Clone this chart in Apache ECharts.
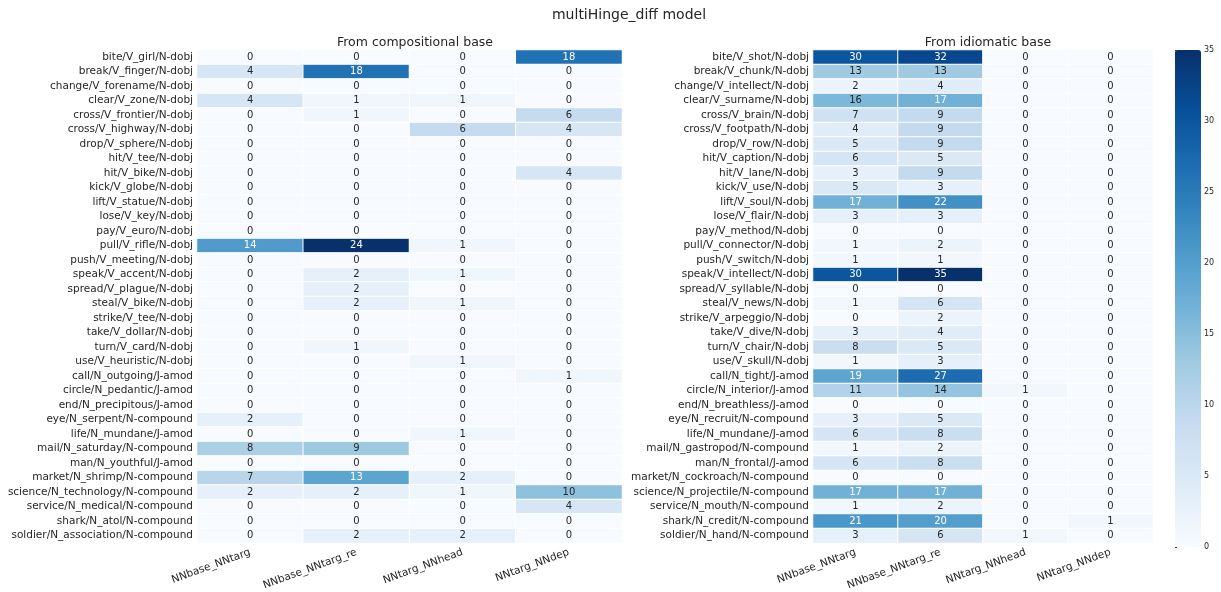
<!DOCTYPE html>
<html>
<head>
<meta charset="utf-8">
<script src="https://cdn.jsdelivr.net/npm/echarts@6/dist/echarts.min.js"></script>
<style>html,body{margin:0;padding:0;background:#fff}#c{width:1221px;height:592px}</style>
</head>
<body>
<div id="c"></div>
<script>
const columns = ['NNbase_NNtarg', 'NNbase_NNtarg_re', 'NNtarg_NNhead', 'NNtarg_NNdep'];

const compRows = ['bite/V_girl/N-dobj','break/V_finger/N-dobj','change/V_forename/N-dobj','clear/V_zone/N-dobj','cross/V_frontier/N-dobj','cross/V_highway/N-dobj','drop/V_sphere/N-dobj','hit/V_tee/N-dobj','hit/V_bike/N-dobj','kick/V_globe/N-dobj','lift/V_statue/N-dobj','lose/V_key/N-dobj','pay/V_euro/N-dobj','pull/V_rifle/N-dobj','push/V_meeting/N-dobj','speak/V_accent/N-dobj','spread/V_plague/N-dobj','steal/V_bike/N-dobj','strike/V_tee/N-dobj','take/V_dollar/N-dobj','turn/V_card/N-dobj','use/V_heuristic/N-dobj','call/N_outgoing/J-amod','circle/N_pedantic/J-amod','end/N_precipitous/J-amod','eye/N_serpent/N-compound','life/N_mundane/J-amod','mail/N_saturday/N-compound','man/N_youthful/J-amod','market/N_shrimp/N-compound','science/N_technology/N-compound','service/N_medical/N-compound','shark/N_atol/N-compound','soldier/N_association/N-compound'];

const compValues = [
  [0,0,0,18],[4,18,0,0],[0,0,0,0],[4,1,1,0],[0,1,0,6],[0,0,6,4],[0,0,0,0],[0,0,0,0],[0,0,0,4],[0,0,0,0],
  [0,0,0,0],[0,0,0,0],[0,0,0,0],[14,24,1,0],[0,0,0,0],[0,2,1,0],[0,2,0,0],[0,2,1,0],[0,0,0,0],[0,0,0,0],
  [0,1,0,0],[0,0,1,0],[0,0,0,1],[0,0,0,0],[0,0,0,0],[2,0,0,0],[0,0,1,0],[8,9,0,0],[0,0,0,0],[7,13,2,0],
  [2,2,1,10],[0,0,0,4],[0,0,0,0],[0,2,2,0]
];

const idiomRows = ['bite/V_shot/N-dobj','break/V_chunk/N-dobj','change/V_intellect/N-dobj','clear/V_surname/N-dobj','cross/V_brain/N-dobj','cross/V_footpath/N-dobj','drop/V_row/N-dobj','hit/V_caption/N-dobj','hit/V_lane/N-dobj','kick/V_use/N-dobj','lift/V_soul/N-dobj','lose/V_flair/N-dobj','pay/V_method/N-dobj','pull/V_connector/N-dobj','push/V_switch/N-dobj','speak/V_intellect/N-dobj','spread/V_syllable/N-dobj','steal/V_news/N-dobj','strike/V_arpeggio/N-dobj','take/V_dive/N-dobj','turn/V_chair/N-dobj','use/V_skull/N-dobj','call/N_tight/J-amod','circle/N_interior/J-amod','end/N_breathless/J-amod','eye/N_recruit/N-compound','life/N_mundane/J-amod','mail/N_gastropod/N-compound','man/N_frontal/J-amod','market/N_cockroach/N-compound','science/N_projectile/N-compound','service/N_mouth/N-compound','shark/N_credit/N-compound','soldier/N_hand/N-compound'];

const idiomValues = [
  [30,32,0,0],[13,13,0,0],[2,4,0,0],[16,17,0,0],[7,9,0,0],[4,9,0,0],[5,9,0,0],[6,5,0,0],[3,9,0,0],[5,3,0,0],
  [17,22,0,0],[3,3,0,0],[0,0,0,0],[1,2,0,0],[1,1,0,0],[30,35,0,0],[0,0,0,0],[1,6,0,0],[0,2,0,0],[3,4,0,0],
  [8,5,0,0],[1,3,0,0],[19,27,0,0],[11,14,1,0],[0,0,0,0],[3,5,0,0],[6,8,0,0],[1,2,0,0],[6,8,0,0],[0,0,0,0],
  [17,17,0,0],[1,2,0,0],[21,20,0,1],[3,6,1,0]
];

const colorbarTicks = [0, 5, 10, 15, 20, 25, 30, 35];

const BLUES = ['#f7fbff','#deebf7','#c6dbef','#9ecae1','#6baed6','#4292c6','#2171b5','#08519c','#08306b'];
const DARK = '#262626';

function buildData(values, vmax) {
  const out = [];
  values.forEach((row, r) => row.forEach((v, c) => {
    out.push({ value: [c, r, v], label: { color: (v / vmax) > 0.47 ? '#ffffff' : DARK } });
  }));
  return out;
}
const compMax = Math.max(...compValues.flat());
const idiomMax = Math.max(...idiomValues.flat());

const fontFamily = 'DejaVu Sans';
const yAxisCommon = {
  type: 'category', inverse: true,
  axisLine: { show: false }, axisTick: { show: false }, splitLine: { show: false },
  axisLabel: { fontSize: 10.5, color: DARK, margin: 4, fontFamily }
};
const xAxisCommon = {
  type: 'category', data: columns,
  axisLine: { show: false }, axisTick: { show: false }, splitLine: { show: false },
  axisLabel: { fontSize: 10.5, color: DARK, rotate: 20, margin: 9, interval: 0, fontFamily }
};

const chart = echarts.init(document.getElementById('c'));
chart.setOption({
  backgroundColor: '#ffffff',
  animation: false,
  textStyle: { fontFamily },
  title: [
    { text: 'multiHinge_diff model', left: 624, top: 3, textAlign: 'center',
      textStyle: { fontSize: 14, fontWeight: 'normal', color: DARK, fontFamily } },
    { text: 'From compositional base', left: 410, top: 31, textAlign: 'center',
      textStyle: { fontSize: 12.5, fontWeight: 'normal', color: DARK, fontFamily } },
    { text: 'From idiomatic base', left: 983, top: 31, textAlign: 'center',
      textStyle: { fontSize: 12.5, fontWeight: 'normal', color: DARK, fontFamily } }
  ],
  grid: [
    { left: 197, top: 50, width: 425, height: 497 },
    { left: 813, top: 50, width: 340, height: 497 },
    { left: 1175, top: 50, width: 26, height: 497 }
  ],
  xAxis: [
    Object.assign({ gridIndex: 0 }, xAxisCommon),
    Object.assign({ gridIndex: 1 }, xAxisCommon),
    { gridIndex: 2, type: 'value', show: false, min: 0, max: 1 }
  ],
  yAxis: [
    Object.assign({ gridIndex: 0, data: compRows }, yAxisCommon),
    Object.assign({ gridIndex: 1, data: idiomRows }, yAxisCommon),
    { gridIndex: 2, type: 'value', position: 'right', min: colorbarTicks[0], max: colorbarTicks[colorbarTicks.length - 1],
      interval: colorbarTicks[1] - colorbarTicks[0],
      axisLine: { show: false }, splitLine: { show: false },
      axisTick: { show: true, length: 2, lineStyle: { color: DARK } },
      axisLabel: { fontSize: 8, color: DARK, margin: 3, fontFamily } }
  ],
  visualMap: [
    { type: 'continuous', seriesIndex: 0, min: 0, max: compMax, show: false,
      inRange: { color: BLUES } },
    { type: 'continuous', seriesIndex: 1, min: 0, max: idiomMax, show: true,
      calculable: false, text: null, showLabel: false, hoverLink: false, indicatorSize: 0,
      left: 1175, top: 50, itemWidth: 26, itemHeight: 497, padding: 0,
      inRange: { color: BLUES } }
  ],
  series: [
    { type: 'heatmap', xAxisIndex: 0, yAxisIndex: 0, data: buildData(compValues, compMax),
      itemStyle: { borderColor: '#ffffff', borderWidth: 1 },
      label: { show: true, fontSize: 10, fontFamily } },
    { type: 'heatmap', xAxisIndex: 1, yAxisIndex: 1, data: buildData(idiomValues, idiomMax),
      itemStyle: { borderColor: '#ffffff', borderWidth: 1 },
      label: { show: true, fontSize: 10, fontFamily } }
  ]
});
</script>
</body>
</html>
